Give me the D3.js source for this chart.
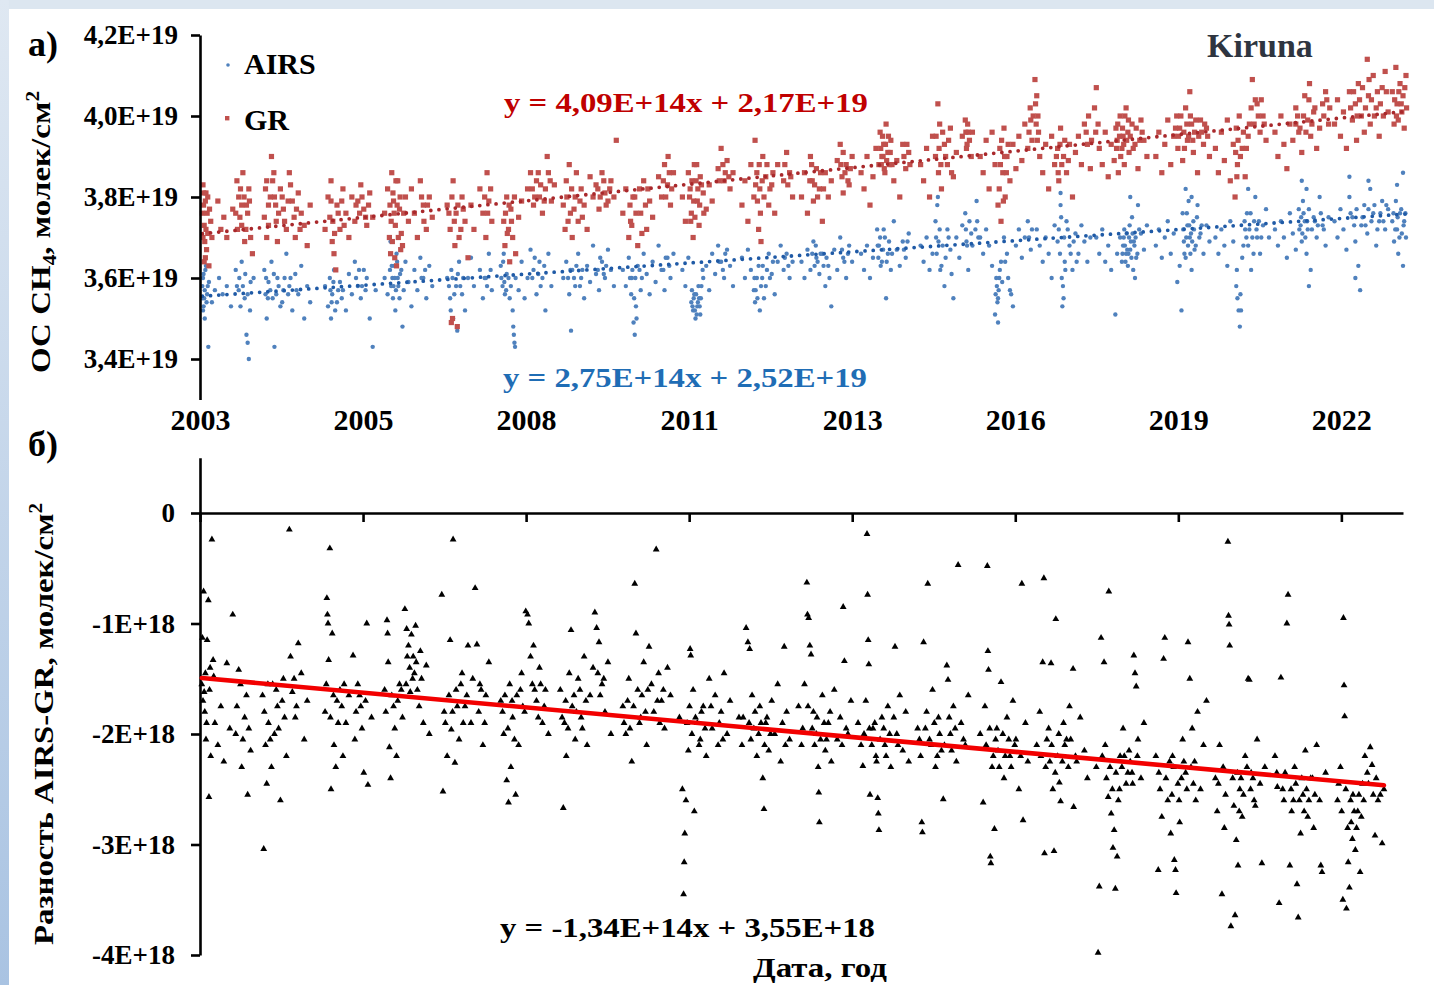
<!DOCTYPE html>
<html>
<head>
<meta charset="utf-8">
<script src="https://cdn.jsdelivr.net/npm/d3@7"></script>
<style>
  body { margin: 0; background: #ffffff; }
  svg { display: block; }
  text { font-family: "Liberation Serif", "Times New Roman", serif; font-weight: bold; }
</style>
</head>
<body>
<svg id="chart" width="1434" height="985"></svg>
<script>
// ---- data: decimal year, total column (1e19 molec/cm2) ----
const grPoints = [
[2003.05,3.83],[2003.06,3.78],[2003.07,3.73],[2003.08,3.69],[2003.09,3.65],[2003.1,3.81],[2003.12,3.76],[2003.13,3.71],[2003.15,3.63],[2003.18,3.74],[2003.3,3.79],[2003.35,3.72],[2003.4,3.75],[2003.45,3.7],[2003.55,3.77],[2003.62,3.84],[2003.65,3.8],[2003.67,3.75],[2003.7,3.73],[2003.72,3.86],[2003.75,3.69],[2003.78,3.78],[2003.82,3.82],[2003.85,3.7],[2003.88,3.66],
[2003.04,3.76],[2003.05,3.7],[2003.06,3.81],[2003.07,3.64],[2003.09,3.79],[2003.1,3.72],[2003.11,3.67],[2003.13,3.8],[2003.16,3.77],[2003.2,3.7],[2003.6,3.76],[2003.63,3.72],[2003.68,3.82],[2003.7,3.78],[2003.74,3.8],[2003.77,3.72],[2003.8,3.76],[2003.83,3.79],
[2004.08,3.75],[2004.1,3.82],[2004.12,3.7],[2004.15,3.78],[2004.2,3.9],[2004.22,3.84],[2004.25,3.8],[2004.28,3.74],[2004.3,3.69],[2004.35,3.82],[2004.4,3.77],[2004.45,3.72],[2004.5,3.86],[2004.55,3.79],[2004.58,3.75],[2004.6,3.7],[2004.65,3.81],[2004.7,3.76],[2004.75,3.73],[2004.8,3.68],[2004.85,3.78],
[2004.12,3.84],[2004.15,3.73],[2004.18,3.8],[2004.24,3.86],[2004.27,3.78],[2004.32,3.76],[2004.38,3.8],[2004.42,3.74],[2004.48,3.79],[2004.52,3.83],[2004.62,3.77],[2004.68,3.72],
[2005.1,3.72],[2005.15,3.8],[2005.18,3.75],[2005.2,3.84],[2005.22,3.69],[2005.25,3.66],[2005.28,3.62],[2005.3,3.78],[2005.35,3.72],[2005.4,3.82],[2005.45,3.76],[2005.5,3.7],[2005.55,3.8],[2005.6,3.74],[2005.65,3.79],[2005.7,3.83],[2005.75,3.77],[2005.8,3.73],[2005.85,3.81],[2005.9,3.75],
[2005.2,3.79],[2005.23,3.74],[2005.26,3.71],[2005.32,3.76],[2005.38,3.79],[2005.42,3.73],[2005.62,3.78],[2005.68,3.76],[2005.72,3.8],[2005.78,3.75],[2005.83,3.78],
[2006.1,3.76],[2006.15,3.82],[2006.18,3.7],[2006.2,3.66],[2006.22,3.86],[2006.25,3.79],[2006.28,3.73],[2006.3,3.63],[2006.32,3.84],[2006.35,3.77],[2006.38,3.71],[2006.4,3.68],[2006.45,3.8],[2006.5,3.74],[2006.55,3.82],[2006.6,3.76],[2006.65,3.7],[2006.7,3.84],[2006.75,3.78],[2006.8,3.72],[2006.85,3.8],[2006.9,3.75],
[2006.19,3.78],[2006.21,3.74],[2006.23,3.69],[2006.24,3.81],[2006.26,3.76],[2006.27,3.65],[2006.29,3.84],[2006.31,3.78],[2006.33,3.7],[2006.36,3.8],[2006.37,3.67],[2006.42,3.76],[2006.72,3.8],[2006.76,3.74],[2006.82,3.78],
[2007.15,3.78],[2007.2,3.72],[2007.22,3.49],[2007.24,3.5],[2007.25,3.84],[2007.28,3.68],[2007.3,3.76],[2007.32,3.48],[2007.35,3.7],[2007.4,3.8],[2007.45,3.74],[2007.5,3.65],[2007.55,3.78],[2007.6,3.72],[2007.7,3.82],[2007.75,3.76],[2007.8,3.7],[2007.82,3.86],[2007.85,3.79],[2007.9,3.74],
[2007.18,3.76],[2007.23,3.8],[2007.27,3.74],[2007.33,3.78],[2007.38,3.72],[2007.42,3.77],[2007.78,3.8],[2007.83,3.76],[2007.88,3.82],
[2008.1,3.74],[2008.12,3.68],[2008.15,3.8],[2008.18,3.72],[2008.2,3.64],[2008.22,3.77],[2008.25,3.7],[2008.3,3.66],[2008.35,3.75],[2008.4,3.79],[2008.5,3.82],[2008.55,3.86],[2008.6,3.78],[2008.65,3.84],[2008.7,3.8],[2008.75,3.76],[2008.8,3.82],[2008.83,3.9],[2008.85,3.86],[2008.9,3.79],[2008.95,3.83],
[2008.13,3.76],[2008.16,3.71],[2008.19,3.78],[2008.23,3.74],[2008.28,3.8],[2008.58,3.82],[2008.62,3.8],[2008.68,3.86],[2008.72,3.83],[2008.78,3.79],[2008.88,3.84],
[2009.1,3.78],[2009.13,3.72],[2009.15,3.84],[2009.2,3.88],[2009.22,3.76],[2009.25,3.7],[2009.3,3.8],[2009.35,3.74],[2009.4,3.82],[2009.45,3.78],[2009.5,3.72],[2009.55,3.85],[2009.6,3.8],[2009.65,3.83],[2009.7,3.77],[2009.75,3.86],[2009.8,3.81],[2009.85,3.79],[2009.9,3.84],[2009.95,3.8],[2009.99,3.94],
[2009.16,3.8],[2009.18,3.74],[2009.24,3.82],[2009.28,3.77],[2009.32,3.86],[2009.38,3.79],[2009.42,3.75],[2009.68,3.82],[2009.72,3.8],[2009.78,3.84],[2009.82,3.78],[2009.88,3.82],
[2010.1,3.76],[2010.15,3.82],[2010.2,3.7],[2010.22,3.78],[2010.25,3.73],[2010.3,3.8],[2010.35,3.68],[2010.4,3.76],[2010.45,3.84],[2010.5,3.72],[2010.55,3.79],[2010.6,3.75],[2010.7,3.85],[2010.75,3.8],[2010.8,3.88],[2010.85,3.83],[2010.86,3.9],[2010.9,3.78],[2010.95,3.86],
[2010.23,3.74],[2010.27,3.8],[2010.32,3.76],[2010.38,3.82],[2010.42,3.71],[2010.48,3.78],[2010.52,3.82],[2010.78,3.84],[2010.82,3.8],[2010.88,3.86],[2010.92,3.82],
[2011.1,3.8],[2011.15,3.74],[2011.2,3.86],[2011.23,3.82],[2011.25,3.76],[2011.28,3.7],[2011.3,3.88],[2011.33,3.84],[2011.35,3.79],[2011.38,3.73],[2011.4,3.85],[2011.45,3.81],[2011.5,3.77],[2011.55,3.83],[2011.6,3.79],[2011.7,3.87],[2011.75,3.92],[2011.8,3.84],[2011.85,3.89],[2011.9,3.82],[2011.95,3.86],
[2011.22,3.8],[2011.24,3.74],[2011.26,3.84],[2011.29,3.79],[2011.31,3.75],[2011.34,3.88],[2011.36,3.82],[2011.39,3.78],[2011.42,3.83],[2011.46,3.76],[2011.72,3.84],[2011.78,3.88],[2011.82,3.86],[2011.88,3.85],
[2012.1,3.78],[2012.15,3.84],[2012.2,3.74],[2012.25,3.88],[2012.3,3.8],[2012.32,3.94],[2012.35,3.86],[2012.38,3.72],[2012.4,3.82],[2012.42,3.69],[2012.45,3.9],[2012.5,3.85],[2012.55,3.78],[2012.6,3.83],[2012.65,3.76],[2012.7,3.88],[2012.8,3.84],[2012.85,3.91],[2012.9,3.86],[2012.95,3.8],
[2012.33,3.83],[2012.36,3.79],[2012.39,3.88],[2012.41,3.76],[2012.44,3.84],[2012.47,3.8],[2012.52,3.88],[2012.57,3.82],[2012.62,3.86],[2012.82,3.88],[2012.87,3.83],[2012.92,3.85],
[2013.1,3.8],[2013.15,3.86],[2013.2,3.76],[2013.25,3.9],[2013.28,3.84],[2013.3,3.79],[2013.35,3.87],[2013.4,3.82],[2013.45,3.74],[2013.5,3.86],[2013.55,3.8],[2013.6,3.84],[2013.7,3.89],[2013.75,3.93],[2013.78,3.85],[2013.8,3.81],[2013.85,3.88],[2013.9,3.83],[2013.95,3.9],
[2013.24,3.84],[2013.27,3.88],[2013.32,3.83],[2013.37,3.8],[2013.42,3.86],[2013.47,3.82],[2013.76,3.88],[2013.8,3.91],[2013.83,3.86],[2013.88,3.84],[2013.92,3.87],
[2014.1,3.86],[2014.15,3.82],[2014.2,3.9],[2014.25,3.78],[2014.3,3.85],[2014.35,3.92],[2014.4,3.88],[2014.42,3.96],[2014.45,3.9],[2014.48,3.93],[2014.5,3.86],[2014.52,3.98],[2014.55,3.91],[2014.58,3.88],[2014.6,3.94],[2014.65,3.84],[2014.7,3.89],[2014.75,3.8],[2014.8,3.93],[2014.85,3.87],[2014.9,3.91],
[2014.43,3.92],[2014.44,3.88],[2014.46,3.95],[2014.47,3.9],[2014.49,3.87],[2014.51,3.93],[2014.53,3.89],[2014.56,3.95],[2014.59,3.91],[2014.62,3.88],[2014.82,3.9],[2014.87,3.93],[2014.92,3.88],
[2015.1,3.88],[2015.15,3.84],[2015.2,3.92],[2015.25,3.8],[2015.3,3.95],[2015.35,3.9],[2015.39,4.03],[2015.4,3.86],[2015.42,3.98],[2015.45,3.82],[2015.5,3.93],[2015.55,3.88],[2015.6,3.97],[2015.65,3.85],[2015.7,3.91],[2015.8,3.95],[2015.85,3.99],[2015.88,3.93],[2015.9,3.96],[2015.95,3.9],
[2015.36,3.95],[2015.41,3.92],[2015.44,3.88],[2015.47,3.96],[2015.52,3.9],[2015.57,3.94],[2015.62,3.86],[2015.86,3.96],[2015.87,3.92],[2015.89,3.98],[2015.92,3.94],[2015.97,3.96],
[2016.1,3.9],[2016.15,3.86],[2016.2,3.94],[2016.25,3.82],[2016.3,3.96],[2016.35,3.88],[2016.4,3.78],[2016.43,3.92],[2016.45,3.74],[2016.48,3.86],[2016.5,3.97],[2016.52,3.8],[2016.55,3.9],[2016.6,3.84],[2016.65,3.93],[2016.7,3.87],[2016.75,3.95],[2016.8,3.89],[2016.85,3.98],[2016.9,3.92],[2016.95,3.99],
[2016.42,3.82],[2016.44,3.88],[2016.46,3.94],[2016.49,3.79],[2016.51,3.9],[2016.54,3.86],[2016.57,3.93],[2016.92,3.96],[2016.94,4.02],[2016.97,3.94],[2016.99,4.0],
[2017.02,4.09],[2017.05,4.05],[2017.07,4.0],[2017.08,3.96],[2017.1,3.9],[2017.15,3.86],[2017.2,3.93],[2017.25,3.82],[2017.3,3.95],[2017.35,3.88],[2017.4,3.92],[2017.42,3.84],[2017.45,3.97],[2017.5,3.9],[2017.55,3.86],[2017.6,3.93],[2017.65,3.8],[2017.7,3.91],[2017.75,3.95],[2017.8,3.88],[2017.85,3.98],[2017.9,3.93],[2017.95,3.87],
[2017.03,4.03],[2017.04,3.98],[2017.06,3.94],[2017.38,3.9],[2017.41,3.86],[2017.44,3.93],[2017.47,3.88],[2017.52,3.94],[2017.58,3.89],[2017.88,3.96],[2017.92,4.0],[2017.97,3.94],
[2018.05,4.07],[2018.08,3.98],[2018.1,3.92],[2018.15,3.88],[2018.2,3.96],[2018.25,3.85],[2018.3,3.93],[2018.35,3.89],[2018.38,3.97],[2018.4,3.94],[2018.42,3.86],[2018.45,4.0],[2018.48,3.92],[2018.5,3.95],[2018.52,3.88],[2018.55,4.02],[2018.58,3.96],[2018.6,3.91],[2018.65,3.98],[2018.7,3.93],[2018.75,3.87],[2018.8,3.99],[2018.85,3.94],[2018.9,3.9],
[2018.02,4.02],[2018.04,3.96],[2018.39,3.92],[2018.41,3.98],[2018.44,3.95],[2018.46,3.9],[2018.49,3.97],[2018.51,3.93],[2018.53,4.0],[2018.56,3.94],[2018.59,3.99],[2018.62,3.95],[2018.67,3.92],[2018.72,3.97],[2018.78,3.94],[2018.82,3.96],
[2019.05,3.9],[2019.1,3.96],[2019.15,3.86],[2019.2,3.93],[2019.25,3.99],[2019.3,3.88],[2019.35,3.95],[2019.4,4.0],[2019.42,3.92],[2019.45,3.97],[2019.5,3.89],[2019.55,4.02],[2019.58,3.94],[2019.62,4.06],[2019.65,3.98],[2019.68,3.91],[2019.7,3.96],[2019.75,3.86],[2019.8,3.99],[2019.85,3.93],[2019.9,3.97],[2019.95,3.9],
[2019.38,3.97],[2019.43,3.95],[2019.47,4.0],[2019.52,3.96],[2019.53,3.92],[2019.57,3.98],[2019.6,3.95],[2019.63,4.0],[2019.67,3.94],[2019.72,3.99],[2019.77,3.95],[2019.82,3.96],[2019.87,3.98],[2019.92,3.95],
[2020.05,3.92],[2020.1,3.86],[2020.15,3.96],[2020.2,3.89],[2020.25,3.99],[2020.3,3.84],[2020.35,3.93],[2020.38,3.8],[2020.4,3.97],[2020.42,3.88],[2020.45,4.0],[2020.5,3.92],[2020.55,3.85],[2020.6,3.95],[2020.65,4.02],[2020.67,4.09],[2020.7,3.98],[2020.75,4.03],[2020.8,3.96],[2020.85,4.0],[2020.9,3.94],
[2020.39,3.91],[2020.41,3.85],[2020.43,3.94],[2020.47,3.9],[2020.52,3.96],[2020.57,3.92],[2020.62,3.98],[2020.72,4.04],[2020.77,4.0],[2020.82,4.04],[2020.87,3.98],
[2021.05,3.96],[2021.1,3.9],[2021.15,4.0],[2021.2,3.93],[2021.25,3.87],[2021.3,3.98],[2021.35,3.94],[2021.4,4.02],[2021.45,3.96],[2021.5,3.91],[2021.55,4.05],[2021.6,3.99],[2021.63,4.08],[2021.65,3.95],[2021.7,4.01],[2021.75,3.92],[2021.8,3.97],[2021.85,4.03],[2021.9,4.06],[2021.95,3.98],
[2021.4,3.98],[2021.43,4.0],[2021.47,3.97],[2021.53,4.0],[2021.57,3.96],[2021.62,4.04],[2021.67,3.98],[2021.72,4.02],[2021.87,4.0],[2021.92,4.04],[2021.97,4.02],
[2022.05,3.98],[2022.1,4.04],[2022.15,3.95],[2022.2,4.01],[2022.25,3.92],[2022.3,4.06],[2022.35,3.99],[2022.4,4.03],[2022.42,3.94],[2022.45,4.08],[2022.5,4.0],[2022.55,3.96],[2022.6,4.14],[2022.62,4.05],[2022.65,3.98],[2022.7,4.1],[2022.75,4.02],[2022.8,3.95],[2022.85,4.07],[2022.9,4.11],[2022.95,4.01],
[2022.32,4.02],[2022.37,4.06],[2022.43,4.0],[2022.47,4.04],[2022.52,4.07],[2022.57,4.02],[2022.63,4.09],[2022.67,4.04],[2022.72,4.0],[2022.77,4.06],[2022.82,4.03],[2022.87,4.0],[2022.92,4.06],
[2023.02,4.06],[2023.05,3.98],[2023.08,4.12],[2023.1,4.03],[2023.12,3.99],[2023.15,4.08],[2023.18,4.01],[2023.2,4.05],[2023.22,3.97],[2023.25,4.1],
[2023.06,4.04],[2023.09,4.0],[2023.13,4.06],[2023.17,4.03],[2023.23,4.07],[2023.26,4.02]
];

const airsPoints = [
[2003.04,3.58],[2003.05,3.52],[2003.06,3.61],[2003.07,3.55],[2003.08,3.5],[2003.1,3.63],[2003.12,3.56],[2003.14,3.43],[2003.15,3.59],[2003.2,3.54],[2003.25,3.57],[2003.32,3.6],[2003.38,3.56],[2003.45,3.58],[2003.52,3.53],[2003.6,3.62],[2003.65,3.57],[2003.7,3.64],[2003.75,3.55],[2003.78,3.46],[2003.8,3.44],[2003.82,3.4],[2003.85,3.59],[2003.9,3.6],
[2003.04,3.55],[2003.05,3.6],[2003.06,3.53],[2003.08,3.57],[2003.09,3.62],[2003.11,3.54],[2003.13,3.58],[2003.62,3.58],[2003.66,3.6],[2003.68,3.53],[2003.72,3.58],[2003.76,3.61],[2003.8,3.56],[2003.84,3.52],
[2004.08,3.62],[2004.1,3.56],[2004.12,3.5],[2004.15,3.59],[2004.2,3.64],[2004.22,3.55],[2004.25,3.43],[2004.3,3.6],[2004.35,3.53],[2004.4,3.57],[2004.45,3.66],[2004.5,3.58],[2004.55,3.52],[2004.6,3.61],[2004.65,3.56],[2004.7,3.63],[2004.75,3.5],[2004.8,3.58],[2004.85,3.54],
[2004.11,3.6],[2004.14,3.55],[2004.18,3.57],[2004.24,3.61],[2004.28,3.56],[2004.32,3.58],[2004.38,3.54],[2004.42,3.6],[2004.48,3.56],[2004.52,3.6],[2004.62,3.57],
[2005.1,3.58],[2005.15,3.53],[2005.18,3.6],[2005.2,3.5],[2005.22,3.56],[2005.25,3.62],[2005.3,3.54],[2005.35,3.59],[2005.4,3.57],[2005.45,3.52],[2005.5,3.61],[2005.55,3.56],[2005.6,3.64],[2005.65,3.58],[2005.7,3.55],[2005.75,3.62],[2005.8,3.6],[2005.85,3.5],[2005.9,3.43],[2005.95,3.57],
[2005.19,3.57],[2005.21,3.54],[2005.24,3.59],[2005.27,3.52],[2005.32,3.57],[2005.38,3.55],[2005.62,3.6],[2005.67,3.62],[2005.72,3.58],[2005.78,3.57],
[2006.1,3.6],[2006.15,3.56],[2006.2,3.69],[2006.22,3.63],[2006.25,3.58],[2006.28,3.52],[2006.3,3.66],[2006.32,3.6],[2006.35,3.55],[2006.38,3.62],[2006.4,3.48],[2006.45,3.64],[2006.5,3.59],[2006.55,3.53],[2006.6,3.62],[2006.65,3.57],[2006.7,3.65],[2006.75,3.6],[2006.8,3.55],[2006.85,3.63],[2006.9,3.58],
[2006.19,3.62],[2006.21,3.58],[2006.23,3.6],[2006.24,3.55],[2006.26,3.63],[2006.27,3.6],[2006.29,3.57],[2006.31,3.64],[2006.33,3.58],[2006.36,3.61],[2006.42,3.57],[2006.72,3.6],[2006.78,3.62],
[2007.15,3.6],[2007.2,3.55],[2007.22,3.62],[2007.25,3.5],[2007.3,3.58],[2007.32,3.47],[2007.35,3.64],[2007.4,3.56],[2007.45,3.52],[2007.5,3.6],[2007.55,3.65],[2007.6,3.58],[2007.7,3.62],[2007.75,3.55],[2007.8,3.6],[2007.85,3.66],[2007.9,3.57],
[2007.18,3.58],[2007.21,3.52],[2007.24,3.6],[2007.27,3.56],[2007.33,3.61],[2007.37,3.58],[2007.42,3.6],[2007.78,3.6],[2007.82,3.58],[2007.88,3.62],
[2008.05,3.63],[2008.08,3.58],[2008.1,3.66],[2008.12,3.56],[2008.15,3.61],[2008.2,3.55],[2008.25,3.52],[2008.26,3.48],[2008.27,3.46],[2008.28,3.44],[2008.29,3.43],[2008.3,3.6],[2008.35,3.57],[2008.4,3.64],[2008.45,3.55],[2008.5,3.6],[2008.55,3.67],[2008.6,3.62],[2008.65,3.56],[2008.7,3.64],[2008.75,3.6],[2008.8,3.52],[2008.85,3.66],[2008.9,3.58],
[2008.06,3.6],[2008.09,3.64],[2008.11,3.59],[2008.14,3.57],[2008.18,3.6],[2008.22,3.58],[2008.58,3.6],[2008.62,3.65],[2008.68,3.61],[2008.72,3.58],[2008.78,3.63],
[2009.1,3.6],[2009.15,3.64],[2009.2,3.56],[2009.23,3.47],[2009.25,3.62],[2009.3,3.58],[2009.35,3.66],[2009.4,3.6],[2009.45,3.55],[2009.5,3.63],[2009.55,3.59],[2009.6,3.68],[2009.65,3.61],[2009.7,3.57],[2009.75,3.64],[2009.8,3.6],[2009.85,3.67],[2009.9,3.62],[2009.95,3.58],
[2009.18,3.6],[2009.22,3.62],[2009.28,3.6],[2009.32,3.63],[2009.38,3.58],[2009.42,3.62],[2009.68,3.62],[2009.72,3.65],[2009.78,3.61],[2009.82,3.63],
[2010.1,3.62],[2010.15,3.58],[2010.2,3.65],[2010.25,3.6],[2010.28,3.49],[2010.3,3.46],[2010.32,3.53],[2010.35,3.63],[2010.4,3.57],[2010.45,3.66],[2010.5,3.61],[2010.55,3.56],[2010.6,3.64],[2010.65,3.59],[2010.7,3.68],[2010.75,3.62],[2010.8,3.57],[2010.85,3.65],[2010.9,3.6],[2010.95,3.66],
[2010.22,3.6],[2010.24,3.56],[2010.26,3.62],[2010.29,3.55],[2010.31,3.6],[2010.33,3.5],[2010.38,3.62],[2010.42,3.6],[2010.78,3.62],[2010.82,3.65],[2010.88,3.63],
[2011.1,3.62],[2011.15,3.58],[2011.2,3.65],[2011.25,3.54],[2011.28,3.52],[2011.3,3.56],[2011.32,3.5],[2011.35,3.53],[2011.38,3.55],[2011.4,3.51],[2011.42,3.58],[2011.45,3.6],[2011.5,3.63],[2011.55,3.57],[2011.6,3.66],[2011.65,3.61],[2011.7,3.68],[2011.75,3.64],[2011.8,3.6],[2011.85,3.67],[2011.9,3.63],[2011.95,3.58],
[2011.26,3.57],[2011.27,3.53],[2011.29,3.55],[2011.31,3.52],[2011.33,3.56],[2011.34,3.51],[2011.36,3.54],[2011.37,3.58],[2011.39,3.53],[2011.41,3.55],[2011.44,3.62],[2011.72,3.64],[2011.78,3.62],[2011.82,3.66],
[2012.1,3.65],[2012.15,3.6],[2012.2,3.67],[2012.25,3.62],[2012.3,3.57],[2012.32,3.54],[2012.35,3.6],[2012.4,3.52],[2012.45,3.63],[2012.5,3.58],[2012.55,3.66],[2012.6,3.61],[2012.65,3.56],[2012.7,3.64],[2012.75,3.68],[2012.8,3.62],[2012.85,3.66],[2012.9,3.6],[2012.95,3.64],
[2012.31,3.6],[2012.33,3.57],[2012.36,3.55],[2012.38,3.63],[2012.42,3.58],[2012.44,3.6],[2012.47,3.55],[2012.52,3.62],[2012.57,3.6],[2012.62,3.64],[2012.82,3.65],[2012.88,3.63],
[2013.1,3.64],[2013.15,3.6],[2013.2,3.67],[2013.25,3.62],[2013.3,3.69],[2013.35,3.65],[2013.4,3.61],[2013.45,3.66],[2013.5,3.58],[2013.55,3.63],[2013.6,3.53],[2013.65,3.67],[2013.7,3.62],[2013.75,3.7],[2013.8,3.65],[2013.85,3.6],[2013.9,3.68],[2013.95,3.64],
[2013.28,3.66],[2013.32,3.63],[2013.34,3.68],[2013.37,3.64],[2013.42,3.66],[2013.47,3.63],[2013.52,3.65],[2013.57,3.6],[2013.78,3.67],[2013.82,3.64],[2013.88,3.66],
[2014.1,3.66],[2014.15,3.62],[2014.2,3.68],[2014.25,3.6],[2014.3,3.65],[2014.37,3.72],[2014.4,3.68],[2014.45,3.64],[2014.5,3.7],[2014.52,3.55],[2014.55,3.66],[2014.6,3.62],[2014.65,3.74],[2014.7,3.67],[2014.75,3.63],[2014.8,3.69],[2014.85,3.65],[2014.9,3.71],
[2014.38,3.68],[2014.39,3.65],[2014.42,3.7],[2014.43,3.63],[2014.47,3.67],[2014.48,3.72],[2014.53,3.64],[2014.57,3.69],[2014.62,3.66],[2014.82,3.67],[2014.88,3.69],
[2015.1,3.68],[2015.15,3.64],[2015.2,3.7],[2015.25,3.62],[2015.3,3.66],[2015.35,3.74],[2015.38,3.78],[2015.4,3.69],[2015.45,3.63],[2015.5,3.58],[2015.55,3.72],[2015.6,3.67],[2015.65,3.55],[2015.7,3.7],[2015.75,3.65],[2015.8,3.73],[2015.85,3.76],[2015.88,3.68],[2015.9,3.62],[2015.95,3.71],
[2015.36,3.7],[2015.37,3.66],[2015.42,3.72],[2015.43,3.62],[2015.47,3.68],[2015.52,3.65],[2015.57,3.7],[2015.62,3.61],[2015.86,3.72],[2015.87,3.69],[2015.92,3.74],[2015.97,3.68],[2015.39,3.8],
[2016.05,3.74],[2016.1,3.7],[2016.15,3.66],[2016.2,3.72],[2016.25,3.68],[2016.3,3.63],[2016.35,3.51],[2016.38,3.58],[2016.4,3.55],[2016.42,3.6],[2016.45,3.64],[2016.5,3.7],[2016.55,3.66],[2016.6,3.57],[2016.65,3.53],[2016.7,3.68],[2016.75,3.72],[2016.8,3.65],[2016.85,3.7],[2016.9,3.74],[2016.95,3.67],
[2016.02,3.72],[2016.07,3.7],[2016.36,3.56],[2016.37,3.6],[2016.39,3.54],[2016.41,3.57],[2016.43,3.62],[2016.47,3.59],[2016.52,3.64],[2016.57,3.6],[2016.62,3.56],[2016.92,3.7],[2016.97,3.72],[2016.04,3.79],[2016.4,3.49],
[2017.05,3.72],[2017.1,3.68],[2017.15,3.64],[2017.2,3.7],[2017.25,3.66],[2017.3,3.6],[2017.35,3.73],[2017.4,3.69],[2017.45,3.78],[2017.48,3.53],[2017.5,3.55],[2017.52,3.64],[2017.55,3.74],[2017.6,3.68],[2017.65,3.62],[2017.7,3.71],[2017.75,3.66],[2017.8,3.73],[2017.85,3.69],[2017.9,3.64],[2017.95,3.7],
[2017.42,3.72],[2017.44,3.66],[2017.46,3.75],[2017.47,3.6],[2017.49,3.58],[2017.51,3.7],[2017.53,3.62],[2017.57,3.72],[2017.62,3.66],[2017.67,3.69],[2017.72,3.64],[2017.45,3.81],
[2018.05,3.7],[2018.1,3.66],[2018.15,3.72],[2018.2,3.64],[2018.25,3.68],[2018.3,3.62],[2018.37,3.51],[2018.4,3.66],[2018.45,3.7],[2018.48,3.64],[2018.5,3.68],[2018.52,3.72],[2018.55,3.66],[2018.58,3.63],[2018.6,3.7],[2018.62,3.67],[2018.65,3.75],[2018.68,3.69],[2018.7,3.6],[2018.72,3.65],[2018.75,3.78],[2018.8,3.71],[2018.85,3.67],[2018.9,3.73],
[2018.49,3.66],[2018.51,3.7],[2018.53,3.68],[2018.54,3.64],[2018.56,3.71],[2018.57,3.67],[2018.59,3.66],[2018.61,3.73],[2018.63,3.69],[2018.64,3.65],[2018.66,3.71],[2018.67,3.62],[2018.69,3.68],[2018.71,3.7],[2018.74,3.66],[2018.77,3.72],[2018.62,3.8],
[2019.05,3.68],[2019.1,3.72],[2019.15,3.65],[2019.2,3.7],[2019.25,3.74],[2019.3,3.66],[2019.35,3.71],[2019.41,3.59],[2019.45,3.63],[2019.5,3.76],[2019.52,3.69],[2019.55,3.65],[2019.58,3.73],[2019.6,3.79],[2019.62,3.7],[2019.65,3.62],[2019.68,3.74],[2019.7,3.67],[2019.75,3.78],[2019.8,3.71],[2019.85,3.66],[2019.9,3.73],[2019.95,3.69],
[2019.51,3.72],[2019.53,3.66],[2019.56,3.7],[2019.57,3.76],[2019.59,3.68],[2019.61,3.73],[2019.63,3.66],[2019.64,3.71],[2019.66,3.69],[2019.69,3.72],[2019.72,3.68],[2019.74,3.75],[2019.78,3.7],[2019.82,3.73],[2019.55,3.82],[2019.65,3.8],[2019.48,3.52],
[2020.05,3.7],[2020.1,3.66],[2020.15,3.72],[2020.2,3.68],[2020.25,3.63],[2020.3,3.74],[2020.35,3.69],[2020.4,3.58],[2020.42,3.55],[2020.46,3.48],[2020.48,3.52],[2020.5,3.65],[2020.55,3.72],[2020.58,3.76],[2020.6,3.68],[2020.65,3.62],[2020.7,3.74],[2020.72,3.8],[2020.75,3.7],[2020.8,3.66],[2020.85,3.73],[2020.9,3.77],[2020.95,3.7],
[2020.41,3.62],[2020.44,3.52],[2020.47,3.56],[2020.52,3.68],[2020.54,3.74],[2020.57,3.7],[2020.62,3.72],[2020.64,3.76],[2020.67,3.7],[2020.69,3.66],[2020.74,3.72],[2020.78,3.74],[2020.82,3.7],[2020.6,3.82],
[2021.05,3.72],[2021.1,3.68],[2021.15,3.74],[2021.2,3.7],[2021.25,3.65],[2021.3,3.76],[2021.35,3.71],[2021.4,3.67],[2021.45,3.77],[2021.48,3.73],[2021.5,3.69],[2021.52,3.79],[2021.55,3.74],[2021.58,3.66],[2021.6,3.72],[2021.65,3.62],[2021.7,3.75],[2021.75,3.7],[2021.8,3.8],[2021.85,3.73],[2021.9,3.68],[2021.95,3.75],
[2021.46,3.72],[2021.49,3.75],[2021.51,3.71],[2021.53,3.76],[2021.56,3.7],[2021.59,3.74],[2021.62,3.77],[2021.67,3.72],[2021.72,3.74],[2021.77,3.73],[2021.82,3.76],[2021.87,3.72],[2021.5,3.84],[2021.58,3.82],[2021.62,3.58],
[2022.05,3.74],[2022.1,3.7],[2022.15,3.77],[2022.2,3.72],[2022.25,3.67],[2022.3,3.8],[2022.35,3.75],[2022.4,3.69],[2022.45,3.63],[2022.48,3.57],[2022.5,3.73],[2022.55,3.78],[2022.6,3.71],[2022.65,3.82],[2022.7,3.76],[2022.75,3.68],[2022.8,3.74],[2022.85,3.79],[2022.9,3.72],[2022.95,3.77],
[2022.32,3.76],[2022.38,3.73],[2022.42,3.77],[2022.52,3.75],[2022.57,3.73],[2022.62,3.77],[2022.67,3.74],[2022.72,3.78],[2022.77,3.72],[2022.82,3.76],[2022.87,3.74],[2022.92,3.78],[2022.3,3.85],[2022.62,3.84],[2022.4,3.6],
[2023.02,3.74],[2023.05,3.69],[2023.08,3.79],[2023.1,3.72],[2023.12,3.66],[2023.15,3.76],[2023.18,3.71],[2023.2,3.63],[2023.22,3.74],[2023.25,3.7],
[2023.04,3.76],[2023.07,3.72],[2023.11,3.75],[2023.14,3.7],[2023.17,3.77],[2023.21,3.73],[2023.24,3.76],[2023.1,3.83],[2023.2,3.86]
];

// ---- data: decimal year, AIRS minus GR (1e18 molec/cm2) ----
const diffPoints = [
[2003.03,-1.55],[2003.04,-1.13],[2003.06,-0.71],[2003.07,-1.62],[2003.08,-1.8],[2003.1,-2.05],[2003.12,-1.15],[2003.14,-0.79],[2003.15,-2.57],[2003.17,-1.4],[2003.2,-0.24],[2003.22,-1.33],[2003.23,-1.48],[2003.25,-1.9],[2003.3,-2.1],[2003.35,-1.75],[2003.4,-2.25],[2003.45,-1.36],[2003.5,-1.95],[2003.55,-0.92],[2003.6,-2.0],[2003.65,-1.42],[2003.7,-2.3],[2003.75,-1.85],[2003.8,-2.55],[2003.85,-2.15],
[2003.05,-1.7],[2003.09,-1.45],[2003.11,-1.9],[2003.16,-1.6],[2003.18,-2.2],[2003.62,-1.75],[2003.68,-1.55],[2003.72,-2.05],[2003.78,-1.65],[2003.82,-1.95],
[2004.05,-1.65],[2004.07,-3.04],[2004.1,-2.1],[2004.12,-2.45],[2004.15,-1.9],[2004.2,-2.3],[2004.22,-1.55],[2004.25,-2.0],[2004.3,-1.75],[2004.35,-2.6],[2004.4,-1.5],[2004.45,-2.2],[2004.5,-0.15],[2004.52,-1.3],[2004.55,-1.62],[2004.6,-1.85],[2004.65,-1.18],[2004.7,-1.45],[2004.75,-2.05],[2004.8,-1.7],
[2004.08,-1.8],[2004.14,-1.55],[2004.18,-2.05],[2004.28,-1.6],[2004.32,-1.95],[2004.38,-1.7],[2004.42,-1.85],[2004.58,-1.5],[2004.62,-1.75],
[2005.1,-1.8],[2005.13,-0.77],[2005.14,-0.92],[2005.15,-1.0],[2005.16,-1.33],[2005.18,-0.32],[2005.2,-2.5],[2005.22,-1.09],[2005.25,-2.1],[2005.28,-2.3],[2005.3,-1.7],[2005.35,-1.6],[2005.4,-2.2],[2005.45,-1.9],[2005.5,-1.65],[2005.57,-1.29],[2005.6,-2.05],[2005.65,-1.55],[2005.7,-1.75],[2005.75,-2.35],[2005.8,-1.0],[2005.82,-2.46],[2005.88,-1.85],
[2005.12,-1.55],[2005.19,-1.85],[2005.24,-1.65],[2005.32,-1.9],[2005.38,-1.75],[2005.42,-1.55],[2005.62,-1.8],[2005.68,-1.65],[2005.72,-1.95],[2005.78,-1.7],
[2006.1,-1.6],[2006.14,-0.97],[2006.15,-1.09],[2006.16,-1.35],[2006.18,-2.12],[2006.2,-2.4],[2006.25,-1.75],[2006.3,-2.2],[2006.35,-1.55],[2006.4,-1.85],[2006.44,-0.87],[2006.47,-1.05],[2006.5,-1.2],[2006.52,-1.4],[2006.55,-1.1],[2006.58,-1.3],[2006.6,-1.45],[2006.62,-1.02],[2006.65,-1.6],[2006.7,-1.25],[2006.75,-1.9],[2006.8,-1.38],[2006.85,-2.0],
[2006.12,-1.8],[2006.22,-1.65],[2006.27,-1.95],[2006.32,-1.7],[2006.38,-1.6],[2006.46,-1.55],[2006.48,-1.3],[2006.53,-1.62],[2006.57,-1.5],[2006.63,-1.35],[2006.68,-1.75],[2006.72,-1.5],
[2007.06,-0.74],[2007.08,-2.52],[2007.1,-1.8],[2007.15,-2.2],[2007.2,-1.15],[2007.22,-1.96],[2007.25,-0.24],[2007.28,-2.26],[2007.3,-1.6],[2007.35,-2.05],[2007.4,-1.45],[2007.45,-1.75],[2007.5,-1.2],[2007.55,-1.9],[2007.62,-0.68],[2007.65,-1.19],[2007.7,-1.55],[2007.75,-2.1],[2007.8,-1.65],[2007.85,-1.35],
[2007.12,-1.9],[2007.18,-1.65],[2007.24,-1.8],[2007.32,-1.75],[2007.38,-1.55],[2007.42,-1.9],[2007.48,-1.65],[2007.58,-1.5],[2007.68,-1.8],[2007.72,-1.6],[2007.78,-1.9],
[2008.05,-1.7],[2008.1,-2.0],[2008.15,-2.42],[2008.18,-2.62],[2008.2,-1.55],[2008.22,-2.3],[2008.25,-1.85],[2008.3,-2.55],[2008.32,-1.65],[2008.35,-2.1],[2008.4,-1.45],[2008.45,-1.8],[2008.47,-0.89],[2008.5,-0.92],[2008.52,-1.0],[2008.55,-1.3],[2008.58,-1.55],[2008.6,-1.2],[2008.65,-1.7],[2008.7,-1.4],[2008.75,-1.9],[2008.8,-1.6],[2008.85,-2.0],
[2008.08,-1.8],[2008.12,-1.65],[2008.17,-1.95],[2008.24,-1.7],[2008.28,-2.05],[2008.38,-1.6],[2008.42,-1.75],[2008.62,-1.6],[2008.68,-1.85],[2008.72,-1.55],[2008.78,-1.75],
[2009.05,-1.6],[2009.1,-2.67],[2009.12,-1.9],[2009.15,-2.2],[2009.2,-1.45],[2009.23,-1.06],[2009.25,-1.75],[2009.3,-2.05],[2009.35,-1.5],[2009.4,-1.85],[2009.45,-1.3],[2009.5,-2.1],[2009.55,-1.65],[2009.6,-1.4],[2009.63,-0.9],[2009.66,-1.04],[2009.7,-1.17],[2009.75,-1.55],[2009.8,-1.8],[2009.85,-1.35],[2009.9,-2.0],
[2009.08,-1.85],[2009.14,-1.7],[2009.18,-1.95],[2009.28,-1.65],[2009.32,-1.8],[2009.38,-1.6],[2009.42,-1.95],[2009.48,-1.7],[2009.68,-1.45],[2009.72,-1.65],[2009.78,-1.5],
[2010.1,-1.75],[2010.15,-2.0],[2010.2,-1.5],[2010.25,-2.25],[2010.3,-0.64],[2010.32,-1.09],[2010.35,-1.6],[2010.4,-1.85],[2010.45,-1.35],[2010.5,-2.1],[2010.54,-1.21],[2010.58,-1.55],[2010.62,-1.8],[2010.66,-0.33],[2010.7,-1.45],[2010.75,-1.7],[2010.8,-1.95],[2010.85,-1.4],[2010.9,-1.65],
[2010.12,-1.9],[2010.18,-1.7],[2010.22,-1.95],[2010.28,-1.75],[2010.38,-1.9],[2010.42,-1.65],[2010.48,-1.8],[2010.52,-1.6],[2010.68,-1.7],[2010.72,-1.9],[2010.78,-1.6],
[2011.05,-1.85],[2011.1,-2.5],[2011.12,-3.45],[2011.13,-3.16],[2011.14,-2.9],[2011.16,-2.6],[2011.2,-2.15],[2011.23,-1.23],[2011.24,-1.29],[2011.28,-1.6],[2011.3,-2.7],[2011.35,-1.9],[2011.4,-2.05],[2011.45,-1.75],[2011.5,-2.2],[2011.55,-1.5],[2011.6,-1.95],[2011.65,-1.65],[2011.7,-2.1],[2011.75,-1.8],[2011.8,-1.45],[2011.85,-2.0],[2011.9,-1.7],
[2011.18,-1.9],[2011.22,-1.75],[2011.26,-2.0],[2011.32,-1.85],[2011.38,-2.1],[2011.42,-1.8],[2011.48,-1.95],[2011.58,-1.75],[2011.72,-1.9],[2011.78,-2.05],
[2012.05,-1.85],[2012.1,-2.1],[2012.17,-1.04],[2012.2,-1.17],[2012.23,-1.23],[2012.27,-1.65],[2012.3,-1.95],[2012.35,-2.2],[2012.4,-1.75],[2012.45,-2.4],[2012.47,-2.68],[2012.5,-1.9],[2012.55,-2.15],[2012.6,-1.7],[2012.65,-2.0],[2012.7,-1.55],[2012.75,-2.25],[2012.81,-1.21],[2012.85,-1.8],[2012.9,-2.05],
[2012.12,-1.85],[2012.22,-1.9],[2012.25,-2.05],[2012.32,-1.8],[2012.38,-2.0],[2012.42,-1.9],[2012.48,-2.1],[2012.52,-1.85],[2012.58,-2.0],[2012.78,-1.9],[2012.83,-2.1],
[2013.05,-1.75],[2013.1,-2.1],[2013.15,-1.55],[2013.19,-0.63],[2013.2,-0.92],[2013.22,-0.95],[2013.24,-1.2],[2013.26,-1.28],[2013.3,-1.8],[2013.35,-2.0],[2013.38,-2.3],[2013.39,-2.53],[2013.4,-2.8],[2013.45,-1.65],[2013.5,-2.15],[2013.55,-1.9],[2013.6,-2.25],[2013.65,-1.6],[2013.7,-2.05],[2013.75,-1.85],[2013.8,-0.85],[2013.82,-1.34],[2013.88,-2.0],[2013.93,-1.7],
[2013.12,-1.95],[2013.21,-1.75],[2013.28,-1.95],[2013.32,-2.1],[2013.36,-1.85],[2013.42,-2.05],[2013.48,-1.9],[2013.52,-2.05],[2013.58,-1.8],[2013.78,-2.1],[2013.85,-1.95],
[2014.05,-1.9],[2014.1,-2.1],[2014.13,-2.29],[2014.18,-1.7],[2014.2,-0.19],[2014.21,-0.74],[2014.22,-1.15],[2014.23,-1.37],[2014.25,-2.55],[2014.3,-1.95],[2014.35,-2.2],[2014.38,-2.58],[2014.39,-2.72],[2014.4,-2.87],[2014.45,-1.85],[2014.5,-2.1],[2014.55,-1.75],[2014.6,-2.3],[2014.67,-1.21],[2014.7,-2.0],[2014.75,-1.65],[2014.8,-2.15],[2014.85,-1.8],[2014.9,-2.25],
[2014.15,-2.0],[2014.24,-1.95],[2014.28,-2.1],[2014.33,-1.9],[2014.36,-2.25],[2014.42,-2.05],[2014.48,-1.95],[2014.52,-2.2],[2014.58,-2.0],[2014.65,-1.85],[2014.72,-2.1],
[2015.05,-1.95],[2015.1,-2.2],[2015.12,-2.8],[2015.13,-2.89],[2015.15,-1.17],[2015.2,-1.8],[2015.22,-0.64],[2015.25,-2.05],[2015.3,-1.6],[2015.35,-2.3],[2015.4,-1.85],[2015.45,-2.15],[2015.48,-2.59],[2015.54,-1.38],[2015.56,-1.51],[2015.6,-2.0],[2015.65,-1.75],[2015.7,-2.25],[2015.73,-0.47],[2015.78,-1.9],[2015.85,-2.1],[2015.9,-1.65],
[2015.08,-2.05],[2015.18,-1.95],[2015.28,-2.1],[2015.33,-1.9],[2015.38,-2.2],[2015.42,-2.0],[2015.5,-2.1],[2015.58,-1.85],[2015.62,-2.15],[2015.68,-1.95],[2015.82,-2.05],
[2016.1,-2.0],[2016.15,-2.62],[2016.18,-1.75],[2016.22,-0.48],[2016.23,-1.25],[2016.24,-1.42],[2016.27,-3.11],[2016.28,-3.17],[2016.3,-2.3],[2016.34,-2.86],[2016.38,-1.95],[2016.4,-2.15],[2016.45,-1.53],[2016.5,-2.4],[2016.55,-1.85],[2016.6,-2.2],[2016.65,-1.7],[2016.7,-2.05],[2016.75,-2.5],[2016.8,-0.64],[2016.82,-2.78],[2016.86,-1.9],[2016.9,-2.25],
[2016.2,-2.1],[2016.26,-1.95],[2016.32,-2.2],[2016.36,-2.05],[2016.42,-2.3],[2016.48,-2.0],[2016.52,-2.2],[2016.58,-2.05],[2016.62,-2.3],[2016.68,-2.1],[2016.78,-2.2],
[2017.05,-2.1],[2017.1,-1.8],[2017.15,-1.35],[2017.17,-0.59],[2017.18,-3.08],[2017.2,-2.3],[2017.25,-1.95],[2017.29,-1.36],[2017.32,-2.5],[2017.34,-3.06],[2017.37,-0.96],[2017.4,-2.2],[2017.43,-2.44],[2017.45,-2.61],[2017.5,-1.9],[2017.55,-2.05],[2017.6,-1.75],[2017.66,-1.41],[2017.67,-2.66],[2017.72,-2.25],[2017.78,-1.85],[2017.85,-2.15],[2017.9,-2.4],
[2017.12,-2.2],[2017.22,-2.05],[2017.27,-2.25],[2017.3,-2.1],[2017.36,-2.35],[2017.42,-2.0],[2017.48,-2.25],[2017.52,-2.1],[2017.58,-2.3],[2017.62,-2.05],[2017.7,-2.2],
[2018.05,-2.3],[2018.08,-3.98],[2018.1,-3.38],[2018.13,-1.13],[2018.18,-1.35],[2018.2,-2.1],[2018.25,-2.57],[2018.26,-0.71],[2018.3,-2.72],[2018.33,-3.03],[2018.35,-2.87],[2018.37,-3.4],[2018.4,-3.11],[2018.42,-2.6],[2018.45,-2.2],[2018.5,-1.95],[2018.55,-2.45],[2018.6,-2.15],[2018.65,-2.35],[2018.68,-1.29],[2018.7,-1.45],[2018.72,-1.57],[2018.75,-2.05],[2018.8,-2.4],[2018.85,-1.9],
[2018.15,-2.2],[2018.22,-2.4],[2018.28,-2.3],[2018.32,-2.5],[2018.38,-2.35],[2018.44,-2.5],[2018.48,-2.3],[2018.52,-2.2],[2018.58,-2.35],[2018.62,-2.25],[2018.66,-2.45],[2018.74,-2.2],
[2019.05,-2.2],[2019.09,-3.23],[2019.12,-2.5],[2019.15,-2.75],[2019.18,-1.32],[2019.2,-1.13],[2019.25,-2.6],[2019.3,-2.9],[2019.33,-2.2],[2019.36,-3.14],[2019.38,-3.23],[2019.39,-3.44],[2019.42,-2.45],[2019.45,-2.8],[2019.5,-2.05],[2019.55,-2.35],[2019.59,-1.17],[2019.62,-1.5],[2019.66,-1.95],[2019.7,-2.25],[2019.75,-1.8],[2019.8,-2.5],[2019.85,-2.1],[2019.9,-1.7],
[2019.1,-2.35],[2019.22,-2.4],[2019.28,-2.25],[2019.32,-2.55],[2019.35,-2.3],[2019.44,-2.6],[2019.48,-2.4],[2019.52,-2.25],[2019.57,-2.5],[2019.64,-2.3],[2019.68,-2.45],[2019.72,-2.6],
[2020.05,-2.4],[2020.08,-2.7],[2020.12,-2.1],[2020.16,-3.45],[2020.2,-2.85],[2020.26,-0.26],[2020.27,-0.93],[2020.28,-1.01],[2020.29,-1.2],[2020.31,-3.74],[2020.38,-3.64],[2020.4,-2.96],[2020.43,-3.19],[2020.46,-2.5],[2020.5,-2.75],[2020.55,-2.2],[2020.6,-1.5],[2020.62,-1.51],[2020.65,-2.35],[2020.7,-2.6],[2020.75,-2.05],[2020.8,-2.45],[2020.83,-3.17],[2020.88,-2.3],
[2020.1,-2.45],[2020.18,-2.3],[2020.22,-2.55],[2020.34,-2.4],[2020.36,-2.65],[2020.42,-2.35],[2020.45,-2.7],[2020.48,-2.4],[2020.52,-2.55],[2020.58,-2.3],[2020.64,-2.5],[2020.68,-2.4],[2020.72,-2.65],
[2021.05,-2.2],[2021.09,-2.48],[2021.12,-3.53],[2021.15,-1.49],[2021.2,-2.6],[2021.25,-1.0],[2021.27,-0.74],[2021.3,-3.19],[2021.33,-2.7],[2021.38,-2.3],[2021.42,-3.36],[2021.44,-3.66],[2021.48,-2.9],[2021.52,-2.55],[2021.56,-2.15],[2021.6,-2.75],[2021.65,-2.4],[2021.7,-2.85],[2021.75,-2.1],[2021.8,-2.6],[2021.82,-3.19],[2021.84,-3.25],[2021.9,-2.35],
[2021.08,-2.35],[2021.18,-2.5],[2021.22,-2.35],[2021.32,-2.5],[2021.36,-2.6],[2021.4,-2.45],[2021.46,-2.6],[2021.5,-2.4],[2021.54,-2.7],[2021.58,-2.5],[2021.62,-2.6],[2021.68,-2.4],[2021.72,-2.55],
[2022.1,-2.6],[2022.15,-2.3],[2022.19,-3.5],[2022.2,-0.95],[2022.21,-1.56],[2022.22,-1.84],[2022.25,-3.58],[2022.28,-3.16],[2022.3,-3.39],[2022.33,-2.8],[2022.36,-2.55],[2022.4,-3.05],[2022.44,-2.7],[2022.48,-3.25],[2022.52,-2.45],[2022.56,-2.2],[2022.6,-2.35],[2022.65,-2.12],[2022.68,-2.28],[2022.73,-2.92],[2022.78,-2.6],[2022.85,-2.99],[2022.88,-2.5],
[2022.12,-2.45],[2022.17,-2.7],[2022.24,-2.5],[2022.27,-2.85],[2022.32,-2.6],[2022.35,-2.95],[2022.38,-2.7],[2022.42,-2.85],[2022.46,-2.55],[2022.5,-2.75],[2022.54,-2.6],[2022.62,-2.45],[2022.7,-2.55],[2022.75,-2.4],[2022.82,-2.55]
];

// linear trends, x = Excel serial date
const grTrend = { slope: 4.09e14, intercept: 2.17e19 };
const airsTrend = { slope: 2.75e14, intercept: 2.52e19 };
const diffTrend = { slope: -1.34e14, intercept: 3.55e18 };

const xTickYears = [2003, 2005, 2008, 2011, 2013, 2016, 2019, 2022];
const topTickValues = [3.4, 3.6, 3.8, 4.0, 4.2];     // x 1e19
const bottomTickValues = [-4, -3, -2, -1, 0];         // x 1e18

// ---- helpers ----
const SERIAL_2003 = 37622;            // Excel serial of 2003-01-01
const TICK_STEP_DAYS = 1000;
const toSerial = yr => SERIAL_2003 + (yr - 2003) * 365.25;

const svg = d3.select("#chart");

// page frame
const defs = svg.append("defs");
const grad = defs.append("linearGradient").attr("id", "sideGrad")
  .attr("x1", 0).attr("y1", 0).attr("x2", 0).attr("y2", 1);
grad.append("stop").attr("offset", "0%").attr("stop-color", "#dfe8f2");
grad.append("stop").attr("offset", "100%").attr("stop-color", "#a9c3e2");
svg.append("rect").attr("x", 0).attr("y", 0).attr("width", 1434).attr("height", 985).attr("fill", "#ffffff");
svg.append("rect").attr("x", 0).attr("y", 0).attr("width", 1434).attr("height", 9).attr("fill", "#dce6f0");
svg.append("rect").attr("x", 0).attr("y", 0).attr("width", 9).attr("height", 985).attr("fill", "url(#sideGrad)");

// ---- scales ----
const x = d3.scaleLinear().domain([SERIAL_2003, 45000]).range([200, 1403]);
const yTop = d3.scaleLinear().domain([3.3, 4.2]).range([399.5, 35]);
const yBot = d3.scaleLinear().domain([-4, 0.5]).range([955, 457.75]);
const tickSerials = xTickYears.map((_, i) => SERIAL_2003 + i * TICK_STEP_DAYS);

// ================= panel a =================
const gA = svg.append("g");

// AIRS dots
gA.append("g").selectAll("circle").data(airsPoints).join("circle")
  .attr("cx", d => x(toSerial(d[0])))
  .attr("cy", d => yTop(d[1]))
  .attr("r", 2.2)
  .attr("fill", "#4f81bd");

// GR squares
gA.append("g").selectAll("rect").data(grPoints).join("rect")
  .attr("x", d => x(toSerial(d[0])) - 2.6)
  .attr("y", d => yTop(d[1]) - 2.6)
  .attr("width", 5.2).attr("height", 5.2)
  .attr("fill", "#c0504d");

// dotted trend lines
function trendPath(points, trend, unit, yScale) {
  const ext = d3.extent(points, d => toSerial(d[0]));
  return d3.line()(ext.map(s => [x(s), yScale((trend.slope * s + trend.intercept) / unit)]));
}
gA.append("path").attr("d", trendPath(airsPoints, airsTrend, 1e19, yTop))
  .attr("fill", "none").attr("stroke", "#1f5aa6").attr("stroke-width", 3.8)
  .attr("stroke-linecap", "round").attr("stroke-dasharray", "0 8.2");
gA.append("path").attr("d", trendPath(grPoints, grTrend, 1e19, yTop))
  .attr("fill", "none").attr("stroke", "#a9282b").attr("stroke-width", 3.8)
  .attr("stroke-linecap", "round").attr("stroke-dasharray", "0 8.2");

// y axis
const axA = gA.append("g").attr("transform", "translate(200,0)")
  .call(d3.axisLeft(yTop).tickValues(topTickValues).tickSize(9).tickSizeOuter(0).tickPadding(13)
    .tickFormat(d => d.toFixed(1).replace(".", ",") + "E+19"));
axA.select(".domain").attr("stroke", "#000").attr("stroke-width", 2.6);
axA.selectAll(".tick line").attr("stroke", "#000").attr("stroke-width", 2.6);
axA.selectAll(".tick text").attr("font-size", 27).attr("fill", "#000")
  .attr("font-family", "Liberation Serif, Times New Roman, serif").attr("font-weight", "bold");

// x labels (no axis line)
const axAx = gA.append("g").attr("transform", "translate(0,399.5)")
  .call(d3.axisBottom(x).tickValues(tickSerials).tickSize(0).tickPadding(9)
    .tickFormat((d, i) => String(xTickYears[i])));
axAx.select(".domain").remove();
axAx.selectAll(".tick text").attr("font-size", 30).attr("fill", "#000")
  .attr("font-family", "Liberation Serif, Times New Roman, serif").attr("font-weight", "bold");

// titles and annotations
svg.append("text").attr("x", 28).attr("y", 56).attr("font-size", 36).text("а)");
svg.append("text").attr("x", 1207).attr("y", 57).attr("font-size", 34).attr("fill", "#2e3540").text("Kiruna");

svg.append("circle").attr("cx", 228).attr("cy", 65).attr("r", 1.8).attr("fill", "#4f81bd");
svg.append("text").attr("x", 244).attr("y", 74).attr("font-size", 30).text("AIRS");
svg.append("rect").attr("x", 225).attr("y", 116).attr("width", 4.4).attr("height", 4.4).attr("fill", "#c0504d");
svg.append("text").attr("x", 244).attr("y", 130).attr("font-size", 30).text("GR");

svg.append("text").attr("x", 504).attr("y", 112).attr("font-size", 28).attr("fill", "#c00000")
  .attr("textLength", 364).attr("lengthAdjust", "spacingAndGlyphs")
  .text("y = 4,09E+14x + 2,17E+19");
svg.append("text").attr("x", 503).attr("y", 387).attr("font-size", 28).attr("fill", "#1f6db5")
  .attr("textLength", 364).attr("lengthAdjust", "spacingAndGlyphs")
  .text("y = 2,75E+14x + 2,52E+19");

const titleA = svg.append("text")
  .attr("transform", "translate(50,232) rotate(-90)")
  .attr("text-anchor", "middle").attr("font-size", 28)
  .attr("textLength", 282).attr("lengthAdjust", "spacingAndGlyphs");
titleA.append("tspan").text("ОС CH");
titleA.append("tspan").attr("font-size", 18).attr("dy", 6).text("4");
titleA.append("tspan").attr("dy", -6).text(", молек/см");
titleA.append("tspan").attr("font-size", 18).attr("dy", -11).text("2");

// ================= panel b =================
const gB = svg.append("g");

svg.append("text").attr("x", 28).attr("y", 456).attr("font-size", 36).text("б)");

// triangles
gB.append("g").selectAll("path").data(diffPoints).join("path")
  .attr("transform", d => `translate(${x(toSerial(d[0]))},${yBot(d[1])})`)
  .attr("d", d3.symbol(d3.symbolTriangle).size(20))
  .attr("fill", "#000");

// x axis along zero
const axBx = gB.append("g").attr("transform", `translate(0,${yBot(0)})`)
  .call(d3.axisBottom(x).tickValues(tickSerials).tickSize(9).tickSizeOuter(0).tickFormat(""));
axBx.select(".domain").attr("stroke", "#000").attr("stroke-width", 2.6);
axBx.selectAll(".tick line").attr("stroke", "#000").attr("stroke-width", 2.6);

// y axis
const axB = gB.append("g").attr("transform", "translate(200,0)")
  .call(d3.axisLeft(yBot).tickValues(bottomTickValues).tickSize(9).tickSizeOuter(0).tickPadding(16)
    .tickFormat(d => d === 0 ? "0" : d + "E+18"));
axB.select(".domain").attr("stroke", "#000").attr("stroke-width", 2.6);
axB.selectAll(".tick line").attr("stroke", "#000").attr("stroke-width", 2.6);
axB.selectAll(".tick text").attr("font-size", 27).attr("fill", "#000")
  .attr("font-family", "Liberation Serif, Times New Roman, serif").attr("font-weight", "bold");

// solid trend line
gB.append("path").attr("d", trendPath(diffPoints, diffTrend, 1e18, yBot))
  .attr("fill", "none").attr("stroke", "#f20000").attr("stroke-width", 4.6).attr("stroke-linecap", "round");

svg.append("text").attr("x", 500).attr("y", 937).attr("font-size", 28).attr("fill", "#000")
  .attr("textLength", 375).attr("lengthAdjust", "spacingAndGlyphs")
  .text("y = -1,34E+14x + 3,55E+18");
svg.append("text").attr("x", 753).attr("y", 977).attr("font-size", 28).attr("fill", "#000")
  .attr("textLength", 134).attr("lengthAdjust", "spacingAndGlyphs")
  .text("Дата, год");

const titleB = svg.append("text")
  .attr("transform", "translate(53,724) rotate(-90)")
  .attr("text-anchor", "middle").attr("font-size", 28)
  .attr("textLength", 442).attr("lengthAdjust", "spacingAndGlyphs");
titleB.append("tspan").text("Разность AIRS-GR, молек/см");
titleB.append("tspan").attr("font-size", 18).attr("dy", -11).text("2");
</script>
</body>
</html>
